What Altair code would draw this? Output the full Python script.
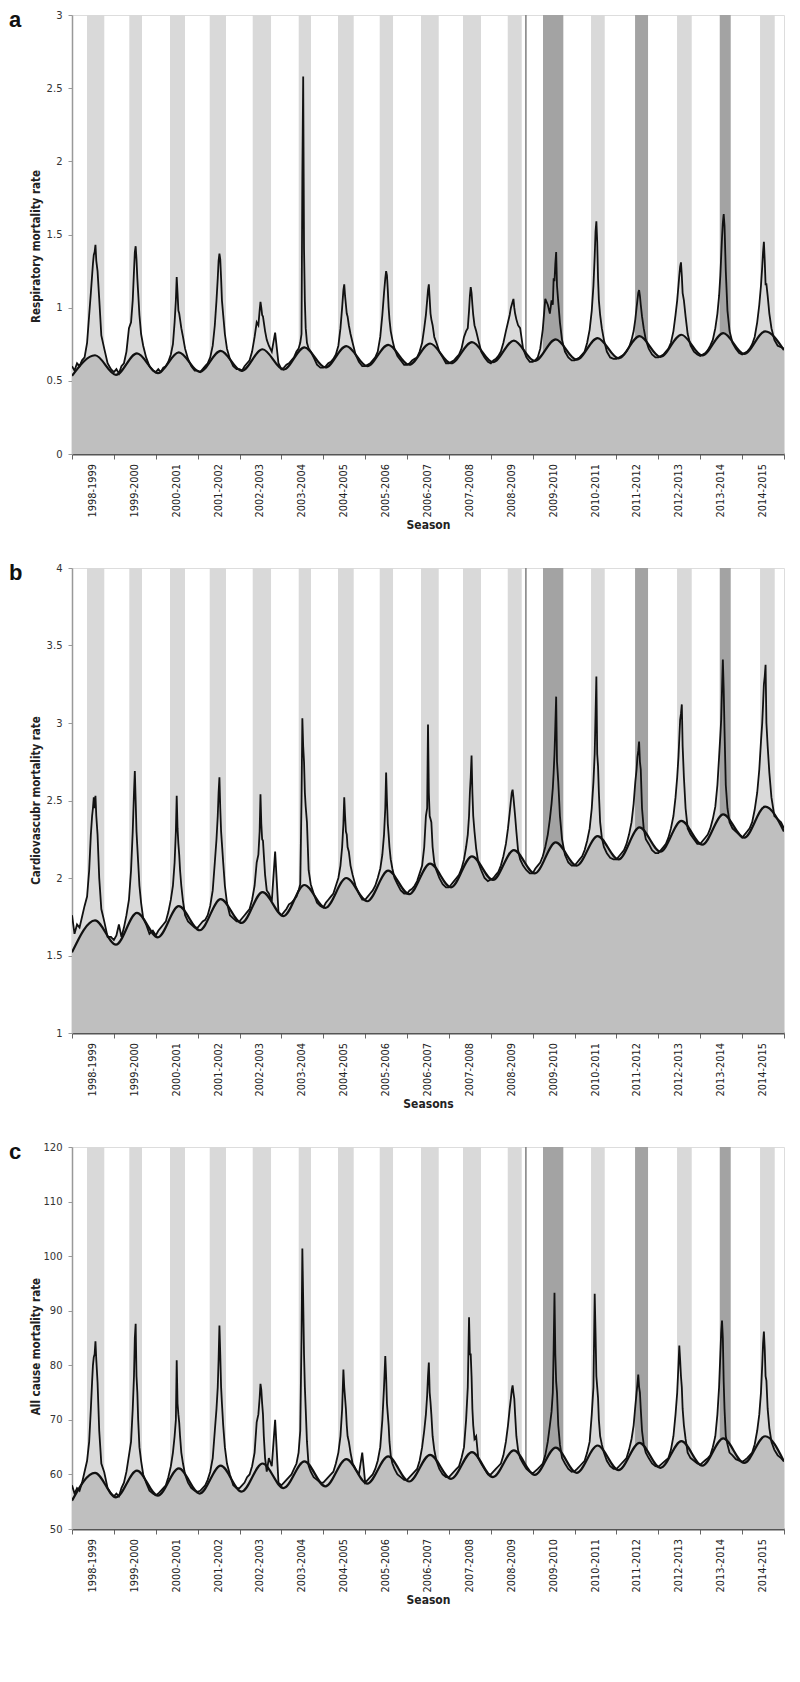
import altair as alt
import pandas as pd

SEASONS = ["1998-1999", "1999-2000", "2000-2001", "2001-2002", "2002-2003", "2003-2004",
           "2004-2005", "2005-2006", "2006-2007", "2007-2008", "2008-2009", "2009-2010",
           "2010-2011", "2011-2012", "2012-2013", "2013-2014", "2014-2015"]

# week offsets inside each season (season units) at which the observed series was read
OFFS = [0.0, 0.06, 0.12, 0.18, 0.24, 0.30, 0.36, 0.41, 0.45, 0.48, 0.50, 0.52, 0.54,
        0.56, 0.58, 0.61, 0.65, 0.70, 0.77, 0.85, 0.93]

# influenza periods (season units)
BAND_START = [0.358, 1.368, 2.340, 3.288, 4.315, 5.413, 6.351, 7.347, 8.333, 9.336,
              10.404, 10.817, 11.246, 12.393, 13.444, 14.446, 15.466, 16.428]
BAND_END = [0.771, 1.671, 2.698, 3.677, 4.752, 5.707, 6.726, 7.665, 8.756, 9.766,
            10.738, 10.857, 11.731, 12.720, 13.754, 14.797, 15.728, 16.779]
BAND_KIND = ["light"] * 10 + ["light", "line", "dark", "light", "dark", "light", "dark", "light"]

# baseline read at summer troughs and winter peaks
BASE_T = [0.0, 0.55, 1.05, 1.55, 2.05, 2.55, 3.05, 3.55, 4.05, 4.55, 5.05, 5.55, 6.05, 6.55,
          7.05, 7.55, 8.05, 8.55, 9.05, 9.55, 10.05, 10.55, 11.05, 11.55, 12.05, 12.55,
          13.05, 13.55, 14.05, 14.55, 15.05, 15.55, 16.05, 16.55, 17.0]

RESP_BASE = [0.534, 0.675, 0.541, 0.687, 0.552, 0.694, 0.561, 0.705, 0.568, 0.716, 0.577,
             0.728, 0.591, 0.737, 0.600, 0.746, 0.610, 0.755, 0.620, 0.764, 0.628, 0.775,
             0.636, 0.783, 0.645, 0.792, 0.654, 0.805, 0.664, 0.815, 0.674, 0.826, 0.684,
             0.838, 0.710]
CARD_BASE = [1.52, 1.727, 1.57, 1.775, 1.617, 1.818, 1.663, 1.864, 1.71, 1.909, 1.754, 1.955,
             1.807, 2.0, 1.85, 2.047, 1.896, 2.093, 1.94, 2.14, 1.987, 2.18, 2.03, 2.23, 2.08,
             2.27, 2.12, 2.326, 2.17, 2.368, 2.215, 2.41, 2.26, 2.46, 2.30]
ALL_BASE = [55.2, 60.3, 55.8, 60.7, 56.1, 61.1, 56.5, 61.6, 56.85, 62.0, 57.5, 62.4, 57.8,
            62.8, 58.3, 63.3, 58.7, 63.6, 59.2, 64.1, 59.5, 64.4, 59.9, 64.9, 60.3, 65.3,
            60.8, 65.8, 61.2, 66.1, 61.6, 66.6, 62.1, 67.0, 62.4]

RESP_OBS = [
    [0.60, 0.57, 0.62, 0.60, 0.64, 0.66, 0.76, 0.95, 1.10, 1.22, 1.30, 1.36, 1.38, 1.43, 1.32, 1.25, 1.06, 0.81, 0.72, 0.62, 0.58],
    [0.56, 0.58, 0.55, 0.60, 0.62, 0.70, 0.86, 0.90, 1.05, 1.25, 1.38, 1.42, 1.33, 1.20, 1.10, 0.95, 0.82, 0.74, 0.66, 0.60, 0.57],
    [0.56, 0.58, 0.56, 0.59, 0.60, 0.63, 0.68, 0.75, 0.90, 1.05, 1.21, 1.10, 0.98, 0.96, 0.92, 0.86, 0.80, 0.72, 0.65, 0.60, 0.57],
    [0.57, 0.56, 0.58, 0.60, 0.62, 0.66, 0.74, 0.88, 1.05, 1.20, 1.32, 1.37, 1.33, 1.20, 1.05, 0.95, 0.82, 0.72, 0.65, 0.60, 0.58],
    [0.58, 0.57, 0.60, 0.62, 0.64, 0.70, 0.80, 0.90, 0.88, 0.98, 1.04, 1.00, 0.95, 0.94, 0.90, 0.84, 0.78, 0.74, 0.70, 0.83, 0.62],
    [0.58, 0.59, 0.61, 0.62, 0.64, 0.66, 0.70, 0.72, 0.76, 0.82, 1.90, 2.58, 1.40, 1.04, 0.86, 0.76, 0.72, 0.70, 0.66, 0.61, 0.59],
    [0.59, 0.60, 0.62, 0.63, 0.65, 0.68, 0.74, 0.86, 1.00, 1.12, 1.16, 1.08, 1.02, 0.96, 0.94, 0.88, 0.82, 0.76, 0.68, 0.63, 0.60],
    [0.60, 0.61, 0.62, 0.64, 0.66, 0.70, 0.80, 0.95, 1.10, 1.20, 1.25, 1.22, 1.12, 1.00, 0.92, 0.84, 0.78, 0.72, 0.67, 0.64, 0.61],
    [0.61, 0.62, 0.64, 0.65, 0.66, 0.70, 0.76, 0.86, 0.95, 1.05, 1.12, 1.16, 1.06, 0.96, 0.92, 0.88, 0.80, 0.76, 0.70, 0.66, 0.62],
    [0.62, 0.63, 0.64, 0.66, 0.68, 0.72, 0.80, 0.84, 0.86, 0.98, 1.08, 1.14, 1.10, 1.02, 0.95, 0.88, 0.84, 0.78, 0.70, 0.66, 0.63],
    [0.62, 0.64, 0.65, 0.67, 0.70, 0.76, 0.84, 0.90, 0.95, 1.00, 1.02, 1.04, 1.06, 1.00, 0.96, 0.92, 0.88, 0.86, 0.72, 0.66, 0.63],
    [0.63, 0.64, 0.66, 0.72, 0.85, 1.06, 1.02, 0.96, 1.05, 1.02, 1.20, 1.18, 1.30, 1.38, 1.15, 1.04, 0.90, 0.78, 0.70, 0.66, 0.64],
    [0.64, 0.65, 0.66, 0.68, 0.70, 0.76, 0.85, 0.98, 1.15, 1.35, 1.52, 1.59, 1.45, 1.20, 1.05, 0.95, 0.86, 0.78, 0.70, 0.66, 0.65],
    [0.65, 0.66, 0.67, 0.68, 0.70, 0.73, 0.78, 0.84, 0.92, 1.00, 1.05, 1.10, 1.12, 1.08, 1.02, 0.94, 0.86, 0.78, 0.72, 0.68, 0.66],
    [0.66, 0.67, 0.68, 0.70, 0.72, 0.76, 0.84, 0.95, 1.05, 1.15, 1.22, 1.28, 1.31, 1.22, 1.10, 1.05, 0.94, 0.82, 0.74, 0.70, 0.68],
    [0.67, 0.68, 0.69, 0.71, 0.74, 0.78, 0.86, 0.96, 1.08, 1.22, 1.35, 1.48, 1.58, 1.64, 1.56, 1.25, 0.98, 0.84, 0.76, 0.72, 0.69],
    [0.68, 0.69, 0.70, 0.72, 0.75, 0.80, 0.90, 1.02, 1.15, 1.28, 1.38, 1.45, 1.32, 1.16, 1.16, 1.08, 0.96, 0.86, 0.78, 0.74, 0.73],
]
RESP_END = 0.72

CARD_OBS = [
    [1.76, 1.64, 1.70, 1.68, 1.75, 1.82, 1.88, 2.05, 2.28, 2.40, 2.45, 2.52, 2.45, 2.53, 2.40, 2.28, 2.00, 1.80, 1.72, 1.62, 1.62],
    [1.60, 1.63, 1.70, 1.62, 1.68, 1.76, 1.86, 2.05, 2.30, 2.55, 2.69, 2.50, 2.30, 2.20, 2.10, 1.95, 1.84, 1.74, 1.70, 1.64, 1.66],
    [1.63, 1.66, 1.68, 1.70, 1.72, 1.78, 1.86, 1.95, 2.10, 2.30, 2.53, 2.32, 2.22, 2.15, 2.05, 1.95, 1.85, 1.76, 1.72, 1.70, 1.68],
    [1.68, 1.70, 1.72, 1.73, 1.76, 1.82, 1.92, 2.10, 2.25, 2.40, 2.55, 2.65, 2.45, 2.30, 2.22, 2.10, 1.95, 1.84, 1.76, 1.74, 1.72],
    [1.72, 1.74, 1.76, 1.78, 1.80, 1.86, 1.95, 2.10, 2.15, 2.30, 2.54, 2.35, 2.25, 2.24, 2.15, 2.02, 1.92, 1.90, 1.85, 2.17, 1.78],
    [1.76, 1.78, 1.80, 1.83, 1.84, 1.86, 1.88, 1.92, 1.96, 2.50, 3.03, 2.85, 2.75, 2.55, 2.46, 2.36, 2.05, 1.96, 1.90, 1.84, 1.82],
    [1.81, 1.84, 1.86, 1.88, 1.90, 1.95, 2.00, 2.08, 2.20, 2.35, 2.52, 2.40, 2.30, 2.28, 2.20, 2.17, 2.08, 2.02, 1.95, 1.90, 1.86],
    [1.86, 1.88, 1.90, 1.92, 1.95, 2.00, 2.06, 2.15, 2.28, 2.45, 2.68, 2.50, 2.35, 2.28, 2.20, 2.12, 2.06, 2.00, 1.96, 1.92, 1.90],
    [1.90, 1.92, 1.93, 1.95, 1.98, 2.03, 2.08, 2.20, 2.40, 2.45, 2.99, 2.55, 2.40, 2.38, 2.36, 2.20, 2.10, 2.05, 2.00, 1.96, 1.94],
    [1.94, 1.96, 1.98, 2.00, 2.02, 2.06, 2.12, 2.20, 2.28, 2.40, 2.55, 2.65, 2.79, 2.55, 2.40, 2.30, 2.19, 2.10, 2.05, 2.00, 1.98],
    [1.99, 2.00, 2.02, 2.04, 2.08, 2.14, 2.22, 2.32, 2.42, 2.50, 2.55, 2.57, 2.52, 2.46, 2.40, 2.30, 2.18, 2.12, 2.08, 2.05, 2.03],
    [2.03, 2.06, 2.08, 2.10, 2.14, 2.20, 2.28, 2.38, 2.48, 2.58, 2.68, 2.80, 2.98, 3.17, 2.75, 2.62, 2.40, 2.25, 2.15, 2.10, 2.08],
    [2.08, 2.10, 2.12, 2.14, 2.18, 2.24, 2.32, 2.45, 2.62, 2.80, 3.05, 3.30, 2.80, 2.72, 2.55, 2.36, 2.26, 2.20, 2.16, 2.13, 2.12],
    [2.12, 2.14, 2.16, 2.18, 2.22, 2.28, 2.36, 2.48, 2.62, 2.70, 2.78, 2.82, 2.88, 2.75, 2.70, 2.45, 2.32, 2.25, 2.22, 2.18, 2.16],
    [2.16, 2.18, 2.20, 2.22, 2.26, 2.32, 2.40, 2.52, 2.65, 2.78, 2.90, 3.02, 3.06, 3.12, 2.85, 2.65, 2.45, 2.32, 2.28, 2.25, 2.22],
    [2.22, 2.24, 2.26, 2.28, 2.32, 2.38, 2.46, 2.60, 2.78, 2.92, 3.02, 3.22, 3.41, 3.22, 2.95, 2.60, 2.45, 2.36, 2.32, 2.30, 2.28],
    [2.26, 2.28, 2.30, 2.32, 2.36, 2.44, 2.55, 2.70, 2.88, 3.00, 3.12, 3.25, 3.30, 3.375, 3.00, 2.85, 2.68, 2.52, 2.40, 2.38, 2.36],
]
CARD_END = 2.32

ALL_OBS = [
    [58.0, 56.5, 57.5, 57.0, 58.5, 60.5, 62.5, 66.0, 72.0, 77.0, 80.0, 81.5, 82.0, 84.4, 81.0, 76.9, 68.0, 62.0, 60.4, 57.5, 56.5],
    [56.0, 56.5, 56.0, 57.5, 58.5, 60.5, 63.5, 66.0, 72.0, 78.0, 85.0, 87.6, 78.0, 75.0, 70.0, 65.0, 62.5, 60.0, 58.5, 57.0, 56.5],
    [56.2, 56.5, 57.0, 57.5, 58.0, 59.5, 61.5, 64.0, 67.0, 70.0, 80.9, 73.0, 71.0, 69.5, 67.0, 64.0, 62.0, 60.0, 58.5, 57.5, 57.0],
    [56.8, 57.0, 57.5, 58.0, 59.0, 60.5, 63.0, 68.0, 72.0, 76.0, 81.0, 87.3, 82.0, 76.0, 73.0, 69.0, 65.0, 62.0, 60.0, 58.0, 57.5],
    [57.5, 58.0, 58.5, 59.5, 60.0, 61.5, 64.0, 69.6, 71.0, 74.0, 76.6, 75.5, 73.0, 71.0, 67.0, 63.0, 60.5, 63.0, 61.5, 70.0, 58.5],
    [58.0, 58.5, 59.0, 59.5, 60.0, 61.0, 62.0, 64.0, 68.0, 85.0, 101.4, 92.0, 82.0, 76.0, 72.0, 66.0, 61.6, 60.5, 59.5, 59.0, 58.5],
    [58.5, 59.0, 59.5, 60.0, 60.5, 62.0, 64.0, 67.0, 72.0, 79.2, 76.0, 74.0, 72.0, 69.0, 67.0, 66.0, 64.0, 62.0, 61.0, 60.0, 64.0],
    [58.5, 59.0, 59.5, 60.0, 61.0, 62.5, 65.0, 70.0, 76.0, 81.7, 78.0, 73.0, 71.0, 69.0, 66.0, 63.5, 62.0, 61.0, 60.0, 59.5, 59.0],
    [59.0, 59.5, 60.0, 60.5, 61.0, 62.5, 65.0, 68.0, 71.0, 74.5, 78.0, 80.5, 75.0, 73.2, 71.0, 67.0, 64.5, 62.5, 61.0, 60.0, 59.5],
    [59.5, 60.0, 60.5, 61.0, 61.5, 63.0, 65.0, 70.0, 76.0, 88.8, 82.0, 82.0, 78.0, 72.0, 69.0, 66.5, 67.0, 63.0, 62.0, 61.0, 60.0],
    [60.0, 60.5, 61.0, 61.5, 62.0, 63.5, 66.0, 69.0, 72.0, 74.0, 75.5, 76.3, 75.0, 73.9, 71.0, 67.0, 64.5, 63.0, 62.0, 61.0, 60.5],
    [60.2, 60.6, 61.0, 61.5, 62.0, 63.5, 66.0, 69.0, 71.5, 75.0, 83.0, 93.3, 82.0, 77.0, 75.0, 69.0, 65.5, 63.0, 62.0, 61.0, 60.5],
    [60.6, 61.0, 61.5, 62.0, 62.5, 64.0, 66.0, 71.0, 76.0, 93.1, 86.0, 78.0, 76.0, 74.0, 70.0, 67.0, 65.5, 64.0, 62.5, 61.5, 61.0],
    [61.0, 61.5, 62.0, 62.5, 63.0, 64.5, 66.5, 69.0, 72.5, 75.0, 76.5, 78.3, 76.0, 75.0, 72.0, 68.0, 65.5, 64.0, 63.0, 62.0, 61.5],
    [61.4, 61.8, 62.2, 62.6, 63.0, 64.5, 67.0, 71.0, 75.0, 80.0, 83.6, 81.0, 78.0, 76.0, 72.0, 69.0, 66.5, 64.0, 63.0, 62.5, 62.0],
    [61.8, 62.2, 62.6, 63.0, 63.5, 65.0, 67.0, 71.0, 76.0, 82.0, 86.0, 88.2, 85.0, 77.0, 72.0, 67.0, 65.5, 64.0, 63.5, 62.8, 62.5],
    [62.3, 62.6, 63.0, 63.5, 64.0, 65.5, 68.0, 71.0, 75.0, 80.0, 84.0, 86.2, 83.0, 78.0, 77.2, 72.0, 68.5, 66.0, 64.5, 63.5, 63.0],
]
ALL_END = 62.4

W = 712
LIGHT = "#d9d9d9"
DARK = "#a3a3a3"
BASEFILL = "#bfbfbf"
TITLE_FONT = "Liberation Sans Narrow, DejaVu Sans Condensed, sans-serif"


def panel(letter, obs_rows, obs_end, base_vals, ymin, ymax, ystep, H, ytitle, ytitle_y, xtitle):
    ts, vs = [], []
    for n, row in enumerate(obs_rows):
        for o, val in zip(OFFS, row):
            ts.append(n + o)
            vs.append(val)
    ts.append(17.0)
    vs.append(obs_end)
    obs = pd.DataFrame({"t": ts, "v": vs})
    base = pd.DataFrame({"t": BASE_T, "v": base_vals})
    bands = pd.DataFrame({"s": BAND_START, "e": BAND_END, "k": BAND_KIND})
    labs = pd.DataFrame({"t": [i + 0.5 for i in range(len(SEASONS))], "lab": SEASONS})

    nticks = int(round((ymax - ymin) / ystep))
    yvals = [round(ymin + i * ystep, 4) for i in range(nticks + 1)]

    xs = alt.Scale(domain=[0, 17], nice=False, zero=False)
    ys = alt.Scale(domain=[ymin, ymax], nice=False, zero=False)
    xax = alt.Axis(values=list(range(18)), labels=False, ticks=True, tickSize=5,
                   tickColor="#666", domainColor="#555", domainWidth=2, grid=False,
                   title=xtitle, titleX=W / 2, titleY=70, titleFont=TITLE_FONT,
                   titleFontSize=12, titleFontWeight="bold", titleAlign="center",
                   titleBaseline="middle", titleColor="#222")
    yax = alt.Axis(values=yvals, format="~r", tickSize=4, tickColor="#999",
                   domainColor="#999", domainWidth=1.5, grid=False, labelFont="DejaVu Sans",
                   labelFontSize=10, labelColor="#333", labelPadding=6,
                   title=ytitle, titleX=-36, titleY=ytitle_y, titleAngle=270,
                   titleAlign="center", titleBaseline="middle", titleFont=TITLE_FONT,
                   titleFontSize=11.5, titleFontWeight="bold", titleColor="#222")

    X = alt.X("t:Q", scale=xs, axis=xax)
    Y = alt.Y("v:Q", scale=ys, axis=yax)

    obs_area = alt.Chart(obs).mark_area(color=LIGHT, clip=True).encode(
        x=X, y=Y, y2=alt.datum(ymin))
    band_rect = alt.Chart(bands).mark_rect(clip=True).encode(
        x=alt.X("s:Q", scale=xs, axis=xax), x2="e:Q",
        y=alt.value(0), y2=alt.value(H),
        color=alt.Color("k:N", scale=alt.Scale(domain=["light", "dark", "line"],
                                               range=[LIGHT, DARK, "#8c8c8c"]), legend=None))
    base_area = alt.Chart(base).mark_area(color=BASEFILL, interpolate="monotone", clip=True).encode(
        x=X, y=Y, y2=alt.datum(ymin))
    obs_line = alt.Chart(obs).mark_line(color="#111", strokeWidth=1.8, clip=True).encode(x=X, y=Y)
    base_line = alt.Chart(base).mark_line(color="#111", strokeWidth=2.2, interpolate="monotone",
                                          clip=True).encode(x=X, y=Y)
    season_txt = alt.Chart(labs).mark_text(angle=270, align="right", baseline="middle",
                                           font="DejaVu Sans", fontSize=9.8, color="#222").encode(
        x=alt.X("t:Q", scale=xs, axis=xax), y=alt.value(H + 10), text="lab:N")
    letter_txt = alt.Chart(pd.DataFrame({"lab": [letter]})).mark_text(
        align="left", baseline="alphabetic", font="Liberation Sans, Arial, sans-serif",
        fontSize=22, fontWeight="bold", color="#111").encode(
        x=alt.value(-63), y=alt.value(12), text="lab:N")

    return alt.layer(obs_area, band_rect, base_area, obs_line, base_line, season_txt,
                     letter_txt).properties(width=W, height=H)


pa = panel("a", RESP_OBS, RESP_END, RESP_BASE, 0, 3, 0.5, 439,
           "Respiratory mortality rate", 231, "Season")
pb = panel("b", CARD_OBS, CARD_END, CARD_BASE, 1, 4, 0.5, 465,
           "Cardiovascubr  mortality rate", 232, "Seasons")
pc = panel("c", ALL_OBS, ALL_END, ALL_BASE, 50, 120, 10, 382,
           "All cause mortality rate", 199, "Season")

chart = alt.vconcat(pa, pb, pc, spacing=30).properties(
    padding={"left": 0, "top": 0, "right": 5, "bottom": 5}
).configure_view(stroke=None).configure(background="white")

chart.save("out.html", embed_options={"renderer": "svg", "actions": False})
